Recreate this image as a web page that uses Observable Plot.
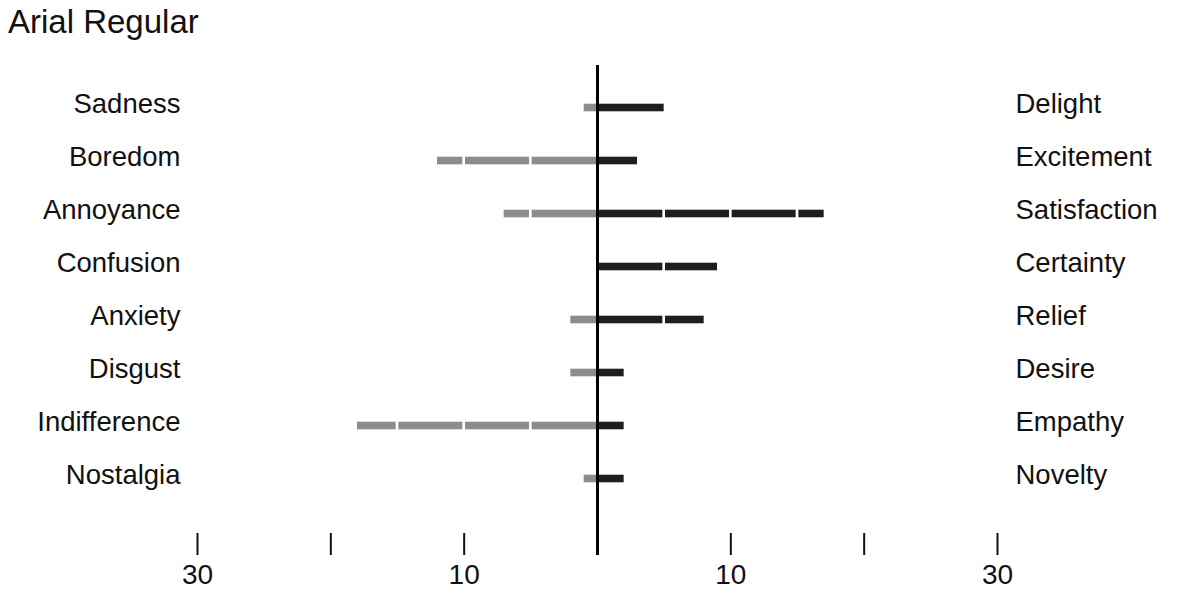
<!DOCTYPE html>
<html>
<head>
<meta charset="utf-8">
<script src="https://cdn.jsdelivr.net/npm/d3@7"></script>
<script src="https://cdn.jsdelivr.net/npm/@observablehq/plot@0.6"></script>
<style>
  html, body { margin: 0; padding: 0; background: #fff; }
  body { width: 1200px; height: 601px; overflow: hidden; font-family: "Liberation Sans", Arial, sans-serif; }
  #title { height: 44px; line-height: 44px; font-size: 33px; padding-left: 8px; color: #111; white-space: nowrap; }
  svg { display: block; }
</style>
</head>
<body>
<div id="title">Arial Regular</div>
<div id="chart"></div>
<script>
const leftCats = ["Sadness","Boredom","Annoyance","Confusion","Anxiety","Disgust","Indifference","Nostalgia"];
const leftVals = [1, 12, 7, 0, 2, 2, 18, 1];
const rightCats = ["Delight","Excitement","Satisfaction","Certainty","Relief","Desire","Empathy","Novelty"];
const rightVals = [5, 3, 17, 9, 8, 2, 2, 2];
const tickValues = [-30, -20, -10, 10, 20, 30];
const tickLabels = ["30", "", "10", "10", "", "30"];
const segmentSize = 5;
const gapHalf = 0.1;

const GRAY = "#8c8c8a";
const DARK = "#1e1f1a";

const rows = leftCats.map((c, i) => ({cat: c, left: leftVals[i], right: rightVals[i], rcat: rightCats[i]}));

// white separators at every segmentSize inside each bar
const seps = [];
rows.forEach(r => {
  for (let k = segmentSize; k < r.left; k += segmentSize) seps.push({cat: r.cat, x: -k});
  for (let k = segmentSize; k < r.right; k += segmentSize) seps.push({cat: r.cat, x: k});
});

const bandInset = 22.7;

const chart = Plot.plot({
  width: 1200,
  height: 557,
  marginLeft: 197,
  marginRight: 203,
  marginTop: 21,
  marginBottom: 68,
  style: {fontFamily: "'Liberation Sans', Arial, sans-serif", background: "#fff", color: "#111"},
  x: {domain: [-30, 30], label: null},
  y: {domain: leftCats, range: [35.8, 462.7], padding: 0, axis: null, label: null},
  marks: [
    Plot.barX(rows, {x1: 0, x2: d => -d.left, y: "cat", fill: GRAY, insetTop: bandInset, insetBottom: bandInset}),
    Plot.barX(rows, {x1: 0, x2: d => d.right, y: "cat", fill: DARK, insetTop: bandInset, insetBottom: bandInset}),
    Plot.barX(seps, {x1: d => d.x - gapHalf, x2: d => d.x + gapHalf, y: "cat", fill: "#fff", insetTop: bandInset - 1, insetBottom: bandInset - 1}),
    Plot.ruleX([0], {stroke: "#000", strokeWidth: 3, insetBottom: -22}),
    Plot.axisX({ticks: tickValues, tickSize: 22, tickPadding: 9, strokeWidth: 2, stroke: "#111", label: null,
      tickFormat: d => tickLabels[tickValues.indexOf(d)], fontSize: 28, fill: "#111"}),
    Plot.text(rows, {y: "cat", text: "cat", frameAnchor: "left", dx: -17, dy: -4, textAnchor: "end", fontSize: 27.5, fill: "#111"}),
    Plot.text(rows, {y: "cat", text: "rcat", frameAnchor: "right", dx: 18, dy: -4, textAnchor: "start", fontSize: 27.5, fill: "#111"})
  ]
});
document.getElementById("chart").appendChild(chart);
</script>
</body>
</html>
